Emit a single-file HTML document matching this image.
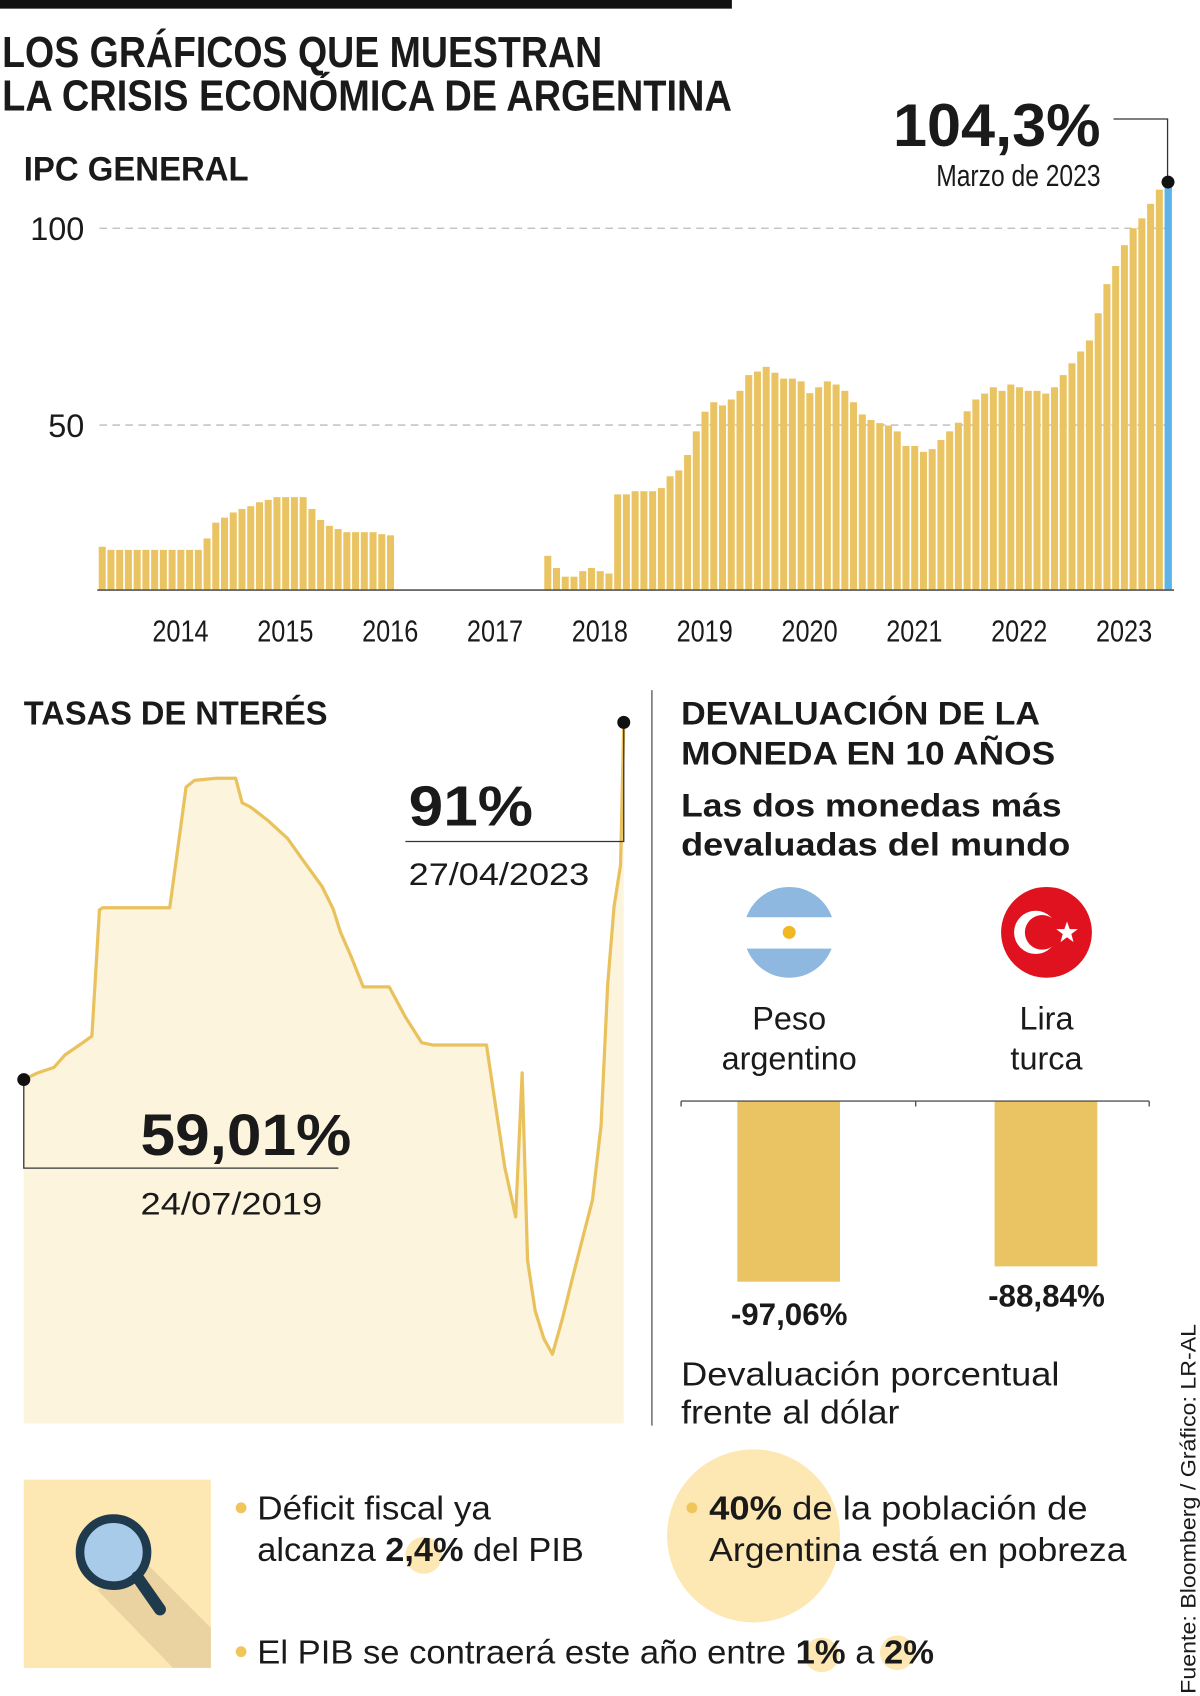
<!DOCTYPE html>
<html><head><meta charset="utf-8"><style>
html,body{margin:0;padding:0;background:#fff}
svg{display:block}
text{font-family:"Liberation Sans",sans-serif;fill:#1a1a1a}
.b{font-weight:bold}
</style></head><body>
<svg id="root" width="1200" height="1696" viewBox="0 0 1110 1568" preserveAspectRatio="none" xmlns="http://www.w3.org/2000/svg">
<rect x="0" y="0" width="677" height="8" fill="#111"/>
<text class="b" x="2" y="62" font-size="40" textLength="555" lengthAdjust="spacingAndGlyphs">LOS GRÁFICOS QUE MUESTRAN</text>
<text class="b" x="2" y="102" font-size="40" textLength="675" lengthAdjust="spacingAndGlyphs">LA CRISIS ECONÓMICA DE ARGENTINA</text>

<g id="ipc">
<text class="b" x="22" y="167" font-size="32" textLength="208" lengthAdjust="spacingAndGlyphs">IPC GENERAL</text>
<text class="b" x="826" y="135" font-size="56" textLength="192" lengthAdjust="spacingAndGlyphs">104,3%</text>
<text x="866" y="172" font-size="28" textLength="152" lengthAdjust="spacingAndGlyphs">Marzo de 2023</text>
<polyline points="1030,110 1080,110 1080,168" fill="none" stroke="#333" stroke-width="1.2"/>
</g>

<g id="tasas">
<text class="b" x="22" y="670" font-size="31" textLength="281" lengthAdjust="spacingAndGlyphs">TASAS DE NTERÉS</text>
</g>

<line x1="603" y1="638" x2="603" y2="1318" stroke="#777" stroke-width="1.5"/>

<g>
<text class="b" x="630" y="670" font-size="30" textLength="332" lengthAdjust="spacingAndGlyphs">DEVALUACIÓN DE LA</text>
<text class="b" x="630" y="707" font-size="30" textLength="346" lengthAdjust="spacingAndGlyphs">MONEDA EN 10 AÑOS</text>
<text class="b" x="630" y="755" font-size="30" textLength="352" lengthAdjust="spacingAndGlyphs">Las  dos monedas más</text>
<text class="b" x="630" y="791" font-size="30" textLength="360" lengthAdjust="spacingAndGlyphs">devaluadas del mundo</text>
<g>
<clipPath id="cA"><circle cx="730" cy="862" r="42"/></clipPath>
<g clip-path="url(#cA)"><rect x="686" y="818" width="90" height="90" fill="#fff"/><rect x="686" y="818" width="90" height="30" fill="#8fb8e0"/><rect x="686" y="877" width="90" height="32" fill="#8fb8e0"/></g>
<circle cx="730" cy="862" r="6" fill="#f2b824"/>
</g>
<g>
<circle cx="968" cy="862" r="42" fill="#e0121f"/>
<circle cx="958" cy="862" r="20" fill="#fff"/><circle cx="964" cy="862" r="16" fill="#e0121f"/>
<polygon points="987,852 989.5,859 997,859 991,863.5 993,871 987,866.5 981,871 983,863.5 977,859 984.5,859" fill="#fff"/>
</g>
<text x="730" y="952" font-size="30" text-anchor="middle">Peso</text>
<text x="730" y="989" font-size="30" text-anchor="middle">argentino</text>
<text x="968" y="952" font-size="30" text-anchor="middle">Lira</text>
<text x="968" y="989" font-size="30" text-anchor="middle">turca</text>
<g id="devbars"></g>
<text x="630" y="1281" font-size="31" textLength="350" lengthAdjust="spacingAndGlyphs">Devaluación porcentual</text>
<text x="630" y="1316" font-size="31" textLength="202" lengthAdjust="spacingAndGlyphs">frente al dólar</text>
</g>

<g>
<g>
<rect x="22" y="1368" width="173" height="174" fill="#fde7b2"/>
<polygon points="90,1470 130,1440 195,1505 195,1542 160,1542" fill="#ead3a1"/>
<circle cx="105" cy="1435" r="31" fill="#a9cbea" stroke="#1e3a4c" stroke-width="8"/>
<line x1="127" y1="1458" x2="148" y2="1488" stroke="#1e3a4c" stroke-width="11" stroke-linecap="round"/>
</g>
<circle cx="697" cy="1420" r="80" fill="#fde7b2"/>
<circle cx="392" cy="1438" r="17" fill="#fde7b2"/>
<circle cx="760" cy="1530" r="16" fill="#fde7b2"/>
<circle cx="830" cy="1528" r="16" fill="#fde7b2"/>
<circle cx="223" cy="1394" r="5" fill="#efc55c"/>
<text x="238" y="1405" font-size="31" textLength="216" lengthAdjust="spacingAndGlyphs">Déficit fiscal ya</text>
<text x="238" y="1443" font-size="31" textLength="302" lengthAdjust="spacingAndGlyphs">alcanza <tspan class="b">2,4%</tspan> del PIB</text>
<circle cx="640" cy="1394" r="5" fill="#efc55c"/>
<text x="656" y="1405" font-size="31" textLength="350" lengthAdjust="spacingAndGlyphs"><tspan class="b">40%</tspan> de la población de</text>
<text x="656" y="1443" font-size="31" textLength="386" lengthAdjust="spacingAndGlyphs">Argentina está en pobreza</text>
<circle cx="223" cy="1527" r="5" fill="#efc55c"/>
<text x="238" y="1538" font-size="31" textLength="626" lengthAdjust="spacingAndGlyphs">El PIB se contraerá este año entre <tspan class="b">1%</tspan> a <tspan class="b">2%</tspan></text>
</g>
<text transform="translate(1106,1566) rotate(-90)" font-size="20" textLength="342" lengthAdjust="spacingAndGlyphs">Fuente: Bloomberg / Gráfico: LR-AL</text>
</svg>
<script>
const ipcValues=[19.1,18.3,18.3,18.3,18.3,18.3,18.3,18.3,18.3,18.3,18.3,18.3,
21.2,25.2,26.5,27.8,28.7,29.4,30.4,31.0,31.7,31.7,31.7,31.7,
28.7,25.9,24.4,23.6,22.8,22.8,22.8,22.8,22.3,22.0,
null,null,null,null,null,null,null,null,null,null,null,null,null,null,null,null,null,
16.8,13.7,11.5,11.5,12.9,13.7,12.9,12.3,32.4,32.4,33.2,33.2,33.2,34.0,37.0,38.5,42.4,48.4,53.4,55.8,55.0,56.5,58.7,62.7,63.6,64.8,63.3,61.8,61.8,61.1,58.1,59.6,61.1,60.3,58.7,55.8,52.7,51.3,50.5,49.9,48.4,44.7,44.7,43.2,43.9,46.2,48.4,50.6,53.5,56.5,58.0,59.6,58.7,60.3,59.6,58.7,58.7,58.0,59.6,62.7,65.7,68.7,71.5,78.4,85.8,90.4,95.7,100.0,102.5,106.2,109.8,112.0];
const ipcYTicks=[50,100];
const ipcYearLabels=["2014","2015","2016","2017","2018","2019","2020","2021","2022","2023"];
const rateT=[0,1.05,2.27,3.08,4.30,5.11,5.68,5.92,7.14,10.95,11.6,12.17,12.81,14.44,15.9,16.38,17.03,18.33,19.79,20.92,22.38,23.2,23.76,24.57,25.47,27.41,28.63,29.85,30.66,34.71,35.36,36.09,36.9,37.39,37.79,38.36,39.01,39.66,40.39,41.2,42.01,42.66,43.31,43.8,44.28,44.77,45.01];
const rateV=[59.0,59.6,60.1,61.2,62.2,62.9,74.2,74.4,74.4,74.4,80.1,85.2,85.8,86.0,86.0,83.8,83.4,82.2,80.6,78.7,76.3,74.3,72.2,70.0,67.3,67.3,64.6,62.3,62.1,62.1,56.9,51.1,46.7,59.6,42.8,38.3,35.8,34.4,37.5,41.4,45.2,48.2,54.9,67.5,74.5,78.2,91.0];
const devCurrencies=["Peso argentino","Lira turca"];
const devValues=[-97.06,-88.84];
const devLabels=["-97,06%","-88,84%"];

const NS="http://www.w3.org/2000/svg";
function mk(tag,attrs,parent){const e=document.createElementNS(NS,tag);for(const k in attrs)e.setAttribute(k,attrs[k]);parent.appendChild(e);return e;}

const ipc=document.getElementById('ipc');
const pitch=994/123;
const ipcX=i=>91+i*pitch;
const ipcY=v=>575-3.64*v;
ipcYTicks.forEach(t=>{
  const g=mk('line',{x1:92,x2:1085,y1:ipcY(t),y2:ipcY(t),stroke:'#bbb','stroke-width':1.2,'stroke-dasharray':'7,5'},ipc);
  
  
  const tx=mk('text',{x:78,y:ipcY(t)+11,'font-size':30,'text-anchor':'end'},ipc);
  tx.textContent=t;
  
  
});
ipcValues.forEach((v,i)=>{
  if(v===null)return;
  const last=i===ipcValues.length-1;
  const r=mk('rect',{x:ipcX(i)+0.3,y:ipcY(v),width:last?6.8:6.5,height:545-ipcY(v),fill:last?'#5eb4e8':'#eac462'},ipc);
  
  
});
const ax=mk('line',{x1:90,x2:1086,y1:545.5,y2:545.5,stroke:'#555','stroke-width':1.5},ipc);


ipcYearLabels.forEach((l,k)=>{
  const tx=mk('text',{x:ipcX(12*(k+1)-2.6),y:593,'font-size':28,'text-anchor':'middle',textLength:52,lengthAdjust:'spacingAndGlyphs'},ipc);
  tx.textContent=l;
  
  
});
const lastI=ipcValues.length-1;
const dot=mk('circle',{cx:ipcX(lastI)+3.5,cy:ipcY(ipcValues[lastI])+1,r:6,fill:'#111'},ipc);



const ts=document.getElementById('tasas');
const rX=t=>22+t*12.33;
const rY=v=>998-(v-59.01)*10.32;
let pts=rateT.map((t,i)=>rX(t).toFixed(1)+','+rY(rateV[i]).toFixed(1));
const area=mk('polygon',{points:rX(rateT[0])+',1316 '+pts.join(' ')+' '+rX(rateT[rateT.length-1])+',1316',fill:'#fdf4de'},ts);


const ln=mk('polyline',{points:pts.join(' '),fill:'none',stroke:'#e9c25e','stroke-width':3,'stroke-linejoin':'round'},ts);


const x0=rX(rateT[0]),y0=rY(rateV[0]),x1=rX(rateT[rateT.length-1]),y1=rY(rateV[rateV.length-1]);
const l1=mk('polyline',{points:`${x0},${y0} ${x0},1080 313,1080`,fill:'none',stroke:'#333','stroke-width':1.2},ts);


const l2=mk('polyline',{points:`375,778 ${x1},778 ${x1},${y1}`,fill:'none',stroke:'#333','stroke-width':1.2},ts);


[[x0,y0,'start'],[x1,y1,'end']].forEach(p=>{
  const c=mk('circle',{cx:p[0],cy:p[1],r:6,fill:'#111'},ts);
  
  
});
const anns=[['91%',378,763,52,115,true],['27/04/2023',378,818,29,167,false],['59,01%',130,1068,54,195,true],['24/07/2019',130,1123,29,168,false]];
anns.forEach(a=>{
  const t=mk('text',{x:a[1],y:a[2],'font-size':a[3],textLength:a[4],lengthAdjust:'spacingAndGlyphs'},ts);
  if(a[5])t.setAttribute('font-weight','bold');
  t.textContent=a[0];
  
  
});

const db=document.getElementById('devbars');
const dX=[730,968];
const dY=v=>1018-v*1.72;
devValues.forEach((v,i)=>{
  const r=mk('rect',{x:dX[i]-48,y:1018,width:95,height:dY(v)-1018,fill:'#eac462'},db);
  
  
  const t=mk('text',{x:dX[i],y:dY(v)+(i===0?40:37),'font-size':29,'font-weight':'bold','text-anchor':'middle'},db);
  t.textContent=devLabels[i];
  
  
});
const dax=mk('line',{x1:630,x2:1063,y1:1018,y2:1018,stroke:'#555','stroke-width':1.3},db);


[630,847,1063].forEach(x=>{
  const tk=mk('line',{x1:x,x2:x,y1:1018,y2:1023,stroke:'#555','stroke-width':1.3},db);
  
  
});
</script>
</body></html>
